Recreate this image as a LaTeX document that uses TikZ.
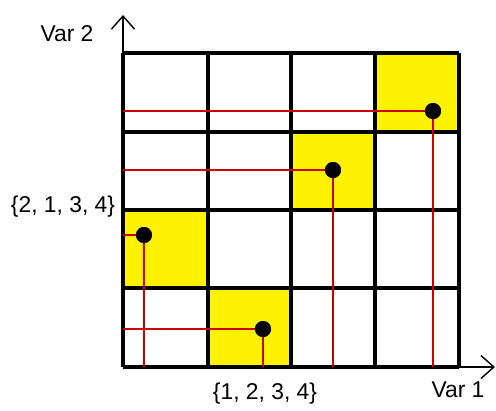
\documentclass[tikz,border=0pt]{standalone}
\usepackage{fontspec}
\setmainfont{Liberation Sans}
\usetikzlibrary{arrows.meta,positioning}

\begin{document}
\begin{tikzpicture}[
  x=0.02cm,y=-0.02cm,
  cellfill/.style={fill=yellow},
  gridline/.style={draw=black,line width=2.2pt},
  guide/.style={draw=red!80!black,line width=1.1pt},
  dot/.style={circle,fill=black,inner sep=0pt,minimum size=3.2mm},
  axis/.style={-{Straight Barb[length=2.6mm,width=4.6mm]},line width=0.8pt},
  lbl/.style={font=\fontsize{13}{15}\selectfont,inner sep=0pt}
]
\useasboundingbox (0,0) rectangle (496,410);
% yellow cells
\fill[cellfill] (375,53) rectangle (459,132);
\fill[cellfill] (291,132) rectangle (375,210);
\fill[cellfill] (123,210) rectangle (208,288);
\fill[cellfill] (208,288) rectangle (291,367);
% grid
\foreach \x in {123,208,291,375,459}
  \draw[gridline] (\x,53) -- (\x,367);
\foreach \y in {53,132,210,288,367}
  \draw[gridline] (123,\y) -- (459,\y);
% axes
\coordinate (o) at (123,367);
\coordinate (ytip) at (123,15);
\coordinate (xtip) at (495,367);
\draw[axis] (o) -- (ytip);
\draw[axis] (o) -- (xtip);
% points
\node[dot] (p1) at (433,111) {};
\node[dot] (p2) at (333,170) {};
\node[dot] (p3) at (144,235) {};
\node[dot] (p4) at (263,329) {};
\foreach \p in {p1,p2,p3,p4} {
  \draw[guide] (\p.center) -- (o |- \p.center);
  \draw[guide] (\p.center) -- (\p.center |- o);
  \node[dot] at (\p) {};
}
% labels
\node[lbl] (ylab) at (67,34) {Var 2};
\node[lbl] (xlab) at (458,390) {Var 1};
\node[lbl] (perm2) at (63,207) {\{2, 1, 3, 4\}};
\node[lbl] (perm1) at (265,394) {\{1, 2, 3, 4\}};
\end{tikzpicture}
\end{document}
